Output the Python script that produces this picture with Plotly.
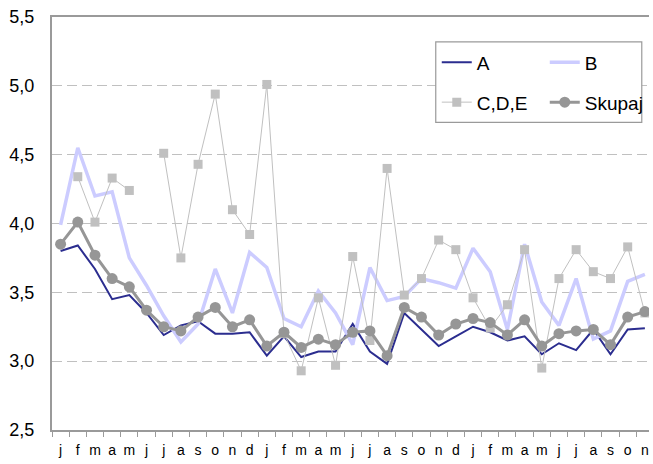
import plotly.graph_objects as go

# Monthly values over three years (Jan of year 1 .. Nov of year 3)
months = ["j", "f", "m", "a", "m", "j", "j", "a", "s", "o", "n", "d",
          "j", "f", "m", "a", "m", "j", "j", "a", "s", "o", "n", "d",
          "j", "f", "m", "a", "m", "j", "j", "a", "s", "o", "n"]

series_a = [3.80, 3.84, 3.67, 3.45, 3.48, 3.35, 3.19, 3.26, 3.29, 3.20, 3.20, 3.21,
            3.04, 3.18, 3.03, 3.07, 3.07, 3.27, 3.07, 2.98, 3.35, 3.23, 3.11, 3.18,
            3.25, 3.21, 3.15, 3.18, 3.05, 3.13, 3.08, 3.23, 3.05, 3.23, 3.24]

series_b = [3.99, 4.55, 4.20, 4.23, 3.75, 3.55, 3.33, 3.14, 3.27, 3.67, 3.35, 3.79,
            3.68, 3.31, 3.25, 3.51, 3.35, 3.12, 3.68, 3.44, 3.47, 3.60, 3.57, 3.53,
            3.82, 3.65, 3.23, 3.85, 3.43, 3.26, 3.60, 3.16, 3.22, 3.58, 3.63]

series_cde = [None, 4.34, 4.01, 4.33, 4.24, None, 4.51, 3.75, 4.43, 4.94, 4.10, 3.92,
              5.01, 3.20, 2.93, 3.46, 2.97, 3.76, 3.15, 4.40, 3.48, 3.60, 3.88, 3.81,
              3.46, 3.24, 3.41, 3.81, 2.95, 3.60, 3.81, 3.65, 3.60, 3.83, 3.35]

skupaj = [3.85, 4.01, 3.77, 3.60, 3.54, 3.37, 3.25, 3.22, 3.32, 3.39, 3.25, 3.30,
          3.11, 3.21, 3.10, 3.16, 3.12, 3.21, 3.22, 3.04, 3.39, 3.32, 3.19, 3.27,
          3.31, 3.28, 3.19, 3.30, 3.11, 3.20, 3.22, 3.23, 3.12, 3.32, 3.36]

y_ticks = [2.5, 3.0, 3.5, 4.0, 4.5, 5.0, 5.5]

x = list(range(len(months)))
FONT = "Liberation Sans, Arial, sans-serif"
AXIS_GREY = "#9a9a9a"

fig = go.Figure()
fig.add_trace(go.Scatter(x=x, y=series_a, name="A", mode="lines",
                         line=dict(color="#2b2d8f", width=2), legend="legend"))
fig.add_trace(go.Scatter(x=x, y=series_b, name="B", mode="lines",
                         line=dict(color="#ccccff", width=3.5), legend="legend"))
fig.add_trace(go.Scatter(x=x, y=series_cde, name="C,D,E", mode="lines+markers",
                         line=dict(color="#c0c0c0", width=1),
                         marker=dict(symbol="square", size=9, color="#c0c0c0"),
                         legend="legend2"))
fig.add_trace(go.Scatter(x=x, y=skupaj, name="Skupaj", mode="lines+markers",
                         line=dict(color="#969696", width=3),
                         marker=dict(symbol="circle", size=11, color="#969696"),
                         legend="legend2"))

# white box framing the two legend rows
fig.add_shape(type="rect", xref="paper", yref="paper",
              x0=0.6428, x1=0.9879, y0=0.745, y1=0.940,
              line=dict(color=AXIS_GREY, width=1.2), fillcolor="white", layer="above")

fig.update_layout(
    width=653, height=464,
    margin=dict(l=52, r=0, t=17, b=34),
    paper_bgcolor="white", plot_bgcolor="white",
    separators=",.",
    font=dict(family=FONT, color="black"),
    showlegend=True,
    legend=dict(orientation="h", x=0.6445, xanchor="left", y=0.890, yanchor="middle",
                bgcolor="rgba(0,0,0,0)", borderwidth=0, entrywidth=63,
                font=dict(size=19, family=FONT), traceorder="normal"),
    legend2=dict(orientation="h", x=0.6445, xanchor="left", y=0.7935, yanchor="middle",
                 bgcolor="rgba(0,0,0,0)", borderwidth=0, entrywidth=63,
                 font=dict(size=19, family=FONT), traceorder="normal"),
    xaxis=dict(range=[-0.5, 34.24], tickmode="array", tickvals=x, ticktext=months,
               ticks="", showgrid=False, zeroline=False,
               showline=True, linecolor=AXIS_GREY, linewidth=2, mirror=True,
               tickfont=dict(size=14, family=FONT), ticklabelstandoff=6,
               minor=dict(tickmode="array", tickvals=[i - 0.5 for i in range(len(months) + 1)],
                          ticks="outside", ticklen=5, tickcolor=AXIS_GREY, tickwidth=1,
                          showgrid=False)),
    yaxis=dict(range=[2.5, 5.5], tickmode="array", tickvals=y_ticks, tickformat=".1f",
               ticks="", showgrid=True, gridcolor="#c0c0c0", griddash="10px,5px", gridwidth=1,
               zeroline=False, showline=True, linecolor=AXIS_GREY, linewidth=2,
               tickfont=dict(size=18, family=FONT), ticklabelstandoff=12),
)

fig.write_html("out.html")
